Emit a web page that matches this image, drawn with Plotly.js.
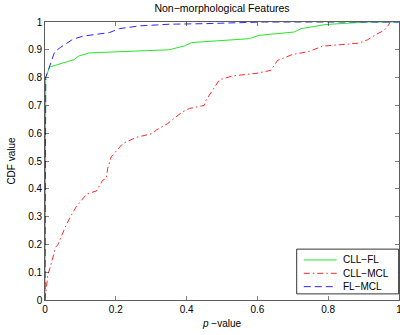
<!DOCTYPE html>
<html>
<head>
<meta charset="utf-8">
<script src="https://cdn.plot.ly/plotly-3.0.1.min.js"></script>
<style>html,body{margin:0;padding:0;background:#fff;}#chart{width:400px;height:335px;}</style>
</head>
<body>
<div id="chart"></div>
<script>
const seriesNames = ["CLL\u2212FL", "CLL\u2212MCL", "FL\u2212MCL"];
const seriesColors = ["rgb(40,230,40)", "rgb(255,40,40)", "rgb(40,40,255)"];
const seriesDash = ["solid", "6px,3px,1.5px,3px", "7px,4px"];

const cllFlX = [0, 0.002, 0.013, 0.083, 0.096, 0.126, 0.35, 0.394, 0.414, 0.577, 0.605, 0.704, 0.723, 0.793, 0.911, 1.0];
const cllFlY = [0, 0.80, 0.838, 0.865, 0.878, 0.889, 0.90, 0.914, 0.926, 0.94, 0.952, 0.964, 0.976, 0.991, 1.0, 1.0];

const cllMclX = [0, 0.004, 0.008, 0.018, 0.03, 0.036, 0.049, 0.06, 0.072, 0.088, 0.115, 0.121, 0.145, 0.163, 0.173, 0.177, 0.187, 0.22, 0.258, 0.304, 0.314, 0.347, 0.37, 0.389, 0.408, 0.45, 0.455, 0.474, 0.493, 0.53, 0.596, 0.638, 0.657, 0.699, 0.746, 0.784, 0.887, 0.911, 0.935, 0.958, 0.970, 0.975];
const cllMclY = [0.0, 0.042, 0.09, 0.132, 0.19, 0.198, 0.24, 0.27, 0.30, 0.335, 0.377, 0.383, 0.392, 0.431, 0.437, 0.473, 0.515, 0.563, 0.585, 0.599, 0.611, 0.635, 0.659, 0.677, 0.689, 0.70, 0.719, 0.757, 0.792, 0.806, 0.815, 0.826, 0.862, 0.883, 0.894, 0.913, 0.924, 0.936, 0.955, 0.97, 0.988, 1.0];

const flMclX = [0, 0.002, 0.027, 0.043, 0.079, 0.107, 0.182, 0.21, 0.267, 0.351, 0.45, 0.55, 0.62, 1.0];
const flMclY = [0, 0.80, 0.892, 0.908, 0.938, 0.949, 0.962, 0.976, 0.986, 0.992, 0.994, 0.997, 1.0, 1.0];

const xTicks = [0, 0.2, 0.4, 0.6, 0.8, 1];
const xTickText = ["0", "0.2", "0.4", "0.6", "0.8", "1"];
const yTicks = [0, 0.1, 0.2, 0.3, 0.4, 0.5, 0.6, 0.7, 0.8, 0.9, 1];
const yTickText = ["0", "0.1", "0.2", "0.3", "0.4", "0.5", "0.6", "0.7", "0.8", "0.9", "1"];

const xs = [cllFlX, cllMclX, flMclX];
const ys = [cllFlY, cllMclY, flMclY];

const traces = xs.map((x, i) => ({
  x: x, y: ys[i], name: seriesNames[i], mode: "lines", type: "scatter",
  line: {color: seriesColors[i], width: 1, dash: seriesDash[i]}
}));

const fnt = {family: "Liberation Sans, Arial, sans-serif", size: 10, color: "#000"};

// Custom MATLAB-style legend (compact rows)
const legRowsY = [0.144, 0.096, 0.048];
const shapes = [{
  type: "rect", xref: "paper", yref: "paper",
  x0: 0.711, x1: 0.999, y0: 0.022, y1: 0.183,
  line: {color: "#000", width: 0.8}, fillcolor: "#fff", layer: "above"
}];
const annotations = [];
seriesNames.forEach((n, i) => {
  shapes.push({
    type: "line", xref: "paper", yref: "paper",
    x0: 0.731, x1: 0.824, y0: legRowsY[i], y1: legRowsY[i],
    line: {color: seriesColors[i], width: 1, dash: seriesDash[i]}, layer: "above"
  });
  annotations.push({
    xref: "paper", yref: "paper", x: 0.836, y: legRowsY[i],
    xanchor: "left", yanchor: "middle", text: n, showarrow: false,
    font: fnt
  });
});

const layout = {
  width: 400, height: 335,
  margin: {l: 45, r: 1, t: 22, b: 35, pad: 0},
  paper_bgcolor: "#fff", plot_bgcolor: "#fff",
  font: fnt,
  showlegend: false,
  title: {text: "Non\u2212morphological Features", font: {family: fnt.family, size: 10.5, color: "#000"},
          x: 0.555, xanchor: "center", y: 0.975, yanchor: "middle"},
  xaxis: {
    range: [0, 1], tickvals: xTicks, ticktext: xTickText,
    ticks: "inside", ticklen: 4, tickwidth: 0.5, tickcolor: "#000",
    showline: true, linecolor: "#333", linewidth: 0.8, mirror: "ticks",
    showgrid: false, zeroline: false, ticklabeloverflow: "allow",
    tickfont: fnt,
    title: {text: "<i>p</i> \u2212value", font: fnt, standoff: 6}
  },
  yaxis: {
    range: [0, 1], tickvals: yTicks, ticktext: yTickText,
    ticks: "inside", ticklen: 4, tickwidth: 0.5, tickcolor: "#000",
    showline: true, linecolor: "#333", linewidth: 0.8, mirror: "ticks",
    showgrid: false, zeroline: false,
    tickfont: fnt,
    title: {text: "CDF value", font: fnt, standoff: 10}
  },
  shapes: shapes,
  annotations: annotations
};

Plotly.newPlot("chart", traces, layout, {displayModeBar: false, staticPlot: true});
</script>
</body>
</html>
